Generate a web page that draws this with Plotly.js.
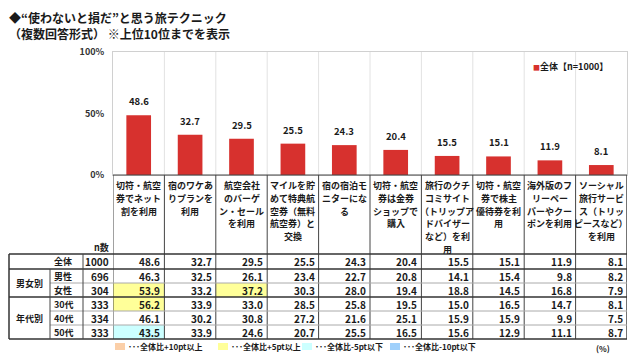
<!DOCTYPE html>
<html><head><meta charset="utf-8">
<script src="https://cdn.plot.ly/plotly-3.0.1.min.js"></script>
<style>html,body{margin:0;padding:0;background:#fff}</style>
</head><body><div id="chart" style="width:640px;height:364px"></div>
<script>
// ---- data ----
const categories = [
  "切符・航空<br>券でネット<br>割を利用",
  "宿のワケあ<br>りプランを<br>利用",
  "航空会社<br>のバーゲ<br>ン・セール<br>を利用",
  "マイルを貯<br>めて特典航<br>空券（無料<br>航空券）と<br>交換",
  "宿の宿泊モ<br>ニターにな<br>る",
  "切符・航空<br>券は金券<br>ショップで<br>購入",
  "旅行のクチ<br>コミサイト<br>（トリップア<br>ドバイザー<br>など）を利<br>用",
  "切符・航空<br>券で株主<br>優待券を利<br>用",
  "海外版のフ<br>リーペー<br>パーやクー<br>ポンを利用",
  "ソーシャル<br>旅行サービ<br>ス（トリッ<br>ピースなど）<br>を利用"
];
const seriesName = "全体【n=1000】";
const totalValues = [48.6, 32.7, 29.5, 25.5, 24.3, 20.4, 15.5, 15.1, 11.9, 8.1];
const yTickVals = [0, 50, 100];
const yTickText = ["0%", "50%", "100%"];

const rowLabels = ["全体", "男性", "女性", "30代", "40代", "50代"];
const groupLabels = ["男女別", "年代別"];
const nValues = [1000, 696, 304, 333, 334, 333];
const rowTotal = [48.6, 32.7, 29.5, 25.5, 24.3, 20.4, 15.5, 15.1, 11.9, 8.1];
const rowMale = [46.3, 32.5, 26.1, 23.4, 22.7, 20.8, 14.1, 15.4, 9.8, 8.2];
const rowFemale = [53.9, 33.2, 37.2, 30.3, 28.0, 19.4, 18.8, 14.5, 16.8, 7.9];
const row30s = [56.2, 33.9, 33.0, 28.5, 25.8, 19.5, 15.0, 16.5, 14.7, 8.1];
const row40s = [46.1, 30.2, 30.8, 27.2, 21.6, 25.1, 15.9, 15.9, 9.9, 7.5];
const row50s = [43.5, 33.9, 24.6, 20.7, 25.5, 16.5, 15.6, 12.9, 11.1, 8.7];
const legendLabels = ["･･･全体比+10pt以上", "･･･全体比+5pt以上", "･･･全体比-5pt以下", "･･･全体比-10pt以下"];

// ---- layout helpers ----
const W = 640, H = 364;
const px = x => x / W;
const py = y => 1 - y / H;
const FONT = "'Noto Sans CJK JP', 'Noto Sans', sans-serif";
const TXT = "#1a1a1a";
const BAR = "#d7312e";
const hlColors = ["#fbcfa8", "#ffff99", "#ccffff", "#9fd0fb"];

const rows = [rowTotal, rowMale, rowFemale, row30s, row40s, row50s];
const rowEdges = [254, 269, 283, 297, 311, 325, 339];
const N = categories.length;

const shapes = [];
const annotations = [];
const ann = (o) => annotations.push(Object.assign({showarrow: false, xanchor: "center", yanchor: "middle"}, o));
const f = (size) => ({family: FONT, size: size, weight: 700, color: TXT});

// highlight cells computed from difference to total
rows.forEach((r, ri) => {
  if (ri === 0) return;
  r.forEach((v, ci) => {
    const d = v - rowTotal[ci];
    let c = null;
    if (d >= 10) c = hlColors[0];
    else if (d >= 5) c = hlColors[1];
    else if (d <= -10) c = hlColors[3];
    else if (d <= -5) c = hlColors[2];
    if (c) shapes.push({type: "rect", xref: "x", yref: "paper", x0: ci - 0.5, x1: ci + 0.5,
      y0: py(rowEdges[ri]), y1: py(rowEdges[ri + 1]), fillcolor: c, line: {width: 0}});
  });
});

// vertical light grid inside plot
for (let k = 1; k < N; k++) {
  shapes.push({type: "line", xref: "x", yref: "paper", x0: k - 0.5, x1: k - 0.5,
    y0: py(175), y1: py(52), line: {color: "#e2e2e2", width: 1}});
}
// dark column lines below plot (labels + table)
for (let k = 0; k <= N; k++) {
  shapes.push({type: "line", xref: "x", yref: "paper", x0: k - 0.5, x1: k - 0.5,
    y0: py(339), y1: py(175), line: {color: "#444", width: k === N ? 1.5 : 1}});
}
shapes.push({type: "line", xref: "paper", yref: "paper", x0: px(113), x1: px(627),
  y0: py(175), y1: py(175), line: {color: "#444", width: 1}});
// table horizontal lines
const hl = (y, x0, color, w) => shapes.push({type: "line", xref: "paper", yref: "paper",
  x0: px(x0), x1: px(627), y0: py(y), y1: py(y), line: {color: color, width: w}});
hl(254, 9, "#333", 1.5);
hl(269, 9, "#333", 1.3);
hl(283, 50, "#aaa", 1);
hl(297, 9, "#333", 1.3);
hl(311, 50, "#aaa", 1);
hl(325, 50, "#aaa", 1);
hl(339, 9, "#333", 1.5);
// table left vertical lines
const vl = (x, y0, y1, color, w) => shapes.push({type: "line", xref: "paper", yref: "paper",
  x0: px(x), x1: px(x), y0: py(y1), y1: py(y0), line: {color: color, width: w}});
vl(9, 254, 339, "#333", 1.5);
vl(50, 269, 339, "#444", 1);
vl(83, 254, 339, "#444", 1);

// title
ann({xref: "paper", yref: "paper", x: px(7), y: py(17), xanchor: "left",
  text: "◆“使わないと損だ”と思う旅テクニック", font: f(12)});
ann({xref: "paper", yref: "paper", x: px(7), y: py(33), xanchor: "left",
  text: "（複数回答形式） ※上位10位までを表示", font: f(12)});

// legend
ann({xref: "paper", yref: "paper", x: px(531), y: py(66), xanchor: "left",
  text: '<span style="color:' + BAR + ';font-size:7px">■</span>' + seriesName, font: f(9)});

// bar value labels
totalValues.forEach((v, i) => ann({xref: "x", yref: "y", x: i, y: v, yanchor: "bottom",
  yshift: 5, text: v.toFixed(1), font: f(9.5)}));

// category labels (one annotation per line for the wider line spacing)
categories.forEach((c, i) => c.split("<br>").forEach((line, li) =>
  ann({xref: "x", yref: "paper", x: i, y: py(185.5 + li * 12.8), text: line, font: f(9)})));

// n header
ann({xref: "paper", yref: "paper", x: px(101), y: py(247), text: "n数", font: f(9)});

// table rows
rows.forEach((r, ri) => {
  const yc = py((rowEdges[ri] + rowEdges[ri + 1]) / 2);
  ann({xref: "paper", yref: "paper", x: px(52), y: yc, xanchor: "left", text: rowLabels[ri], font: f(9)});
  ann({xref: "paper", yref: "paper", x: px(111), y: yc, xanchor: "right", text: String(nValues[ri]), font: f(10)});
  r.forEach((v, ci) => ann({xref: "x", yref: "paper", x: ci + 0.5, y: yc, xanchor: "right", xshift: -2,
    text: v.toFixed(1), font: f(10)}));
});
ann({xref: "paper", yref: "paper", x: px(29.5), y: py(283), text: groupLabels[0], font: f(9)});
ann({xref: "paper", yref: "paper", x: px(29.5), y: py(318), text: groupLabels[1], font: f(9)});

// bottom legend
const legX = [115, 218, 302, 390];
legendLabels.forEach((t, i) => {
  shapes.push({type: "rect", xref: "paper", yref: "paper", x0: px(legX[i]), x1: px(legX[i] + 10),
    y0: py(350), y1: py(343), fillcolor: hlColors[i], line: {width: 0}});
  ann({xref: "paper", yref: "paper", x: px(legX[i] + 11), y: py(346.5), xanchor: "left", text: t, font: f(8)});
});
ann({xref: "paper", yref: "paper", x: px(603), y: py(348), text: "(%)", font: f(8)});

const trace = {type: "bar", x: categories, y: totalValues, name: seriesName,
  marker: {color: BAR}, width: 0.48, hoverinfo: "none", showlegend: false};

const layout = {
  width: W, height: H, margin: {l: 0, r: 0, t: 0, b: 0},
  paper_bgcolor: "#fff", plot_bgcolor: "#fff", showlegend: false,
  font: {family: FONT, color: TXT},
  xaxis: {domain: [px(113), px(627)], type: "category", range: [-0.5, N - 0.5], showticklabels: false,
    showgrid: false, zeroline: false, showline: true, mirror: true, linecolor: "#d0d0d0", ticks: "", fixedrange: true},
  yaxis: {domain: [py(175), py(52)], range: [0, 100], tickvals: yTickVals, ticktext: yTickText,
    showgrid: false, zeroline: false, showline: true, mirror: true, linecolor: "#d0d0d0", ticks: "",
    ticklabelstandoff: 6, tickfont: {family: FONT, size: 9, weight: 700, color: "#333"}, fixedrange: true},
  shapes: shapes, annotations: annotations
};
Plotly.newPlot("chart", [trace], layout, {displayModeBar: false, staticPlot: true});
</script></body></html>
